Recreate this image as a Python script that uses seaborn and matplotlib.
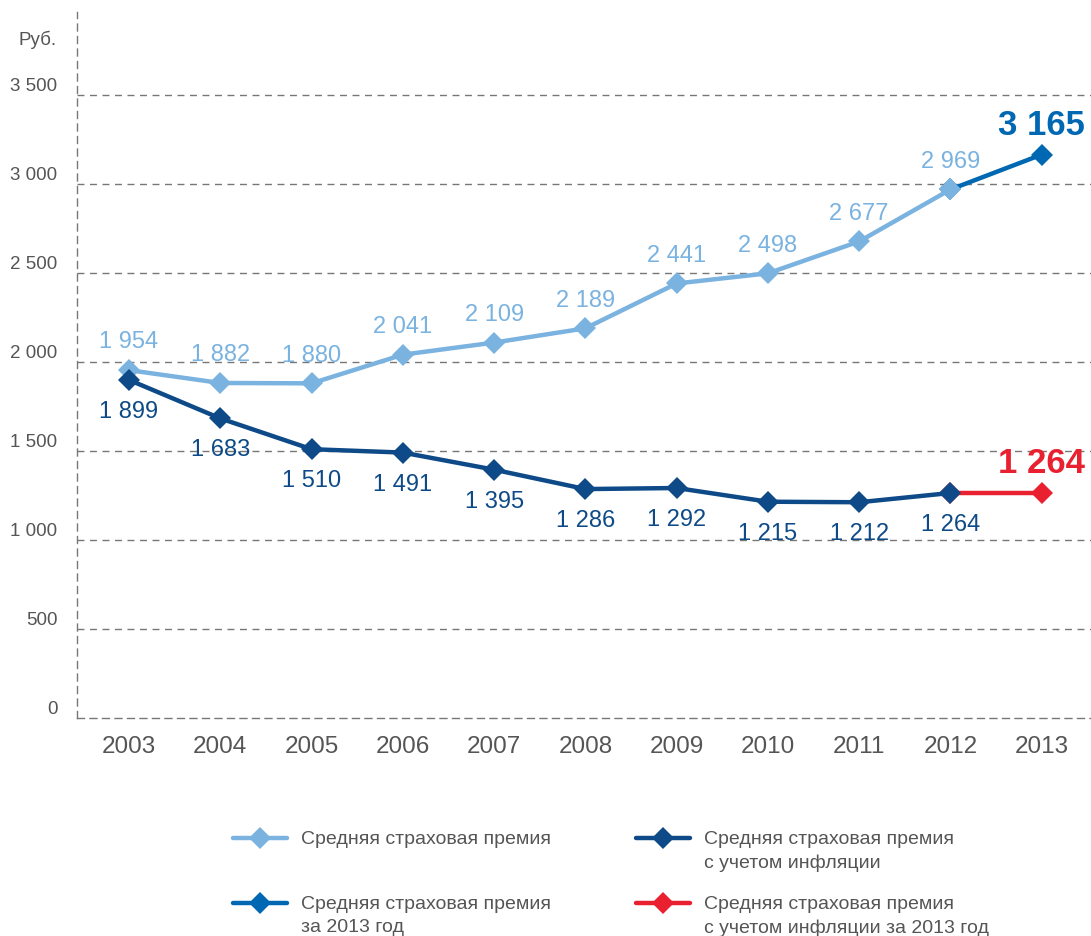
import numpy as np
import pandas as pd
import matplotlib.pyplot as plt
import seaborn as sns
from matplotlib.lines import Line2D

# chart data
years = list(range(2003, 2014))
premium = [1954, 1882, 1880, 2041, 2109, 2189, 2441, 2498, 2677, 2969, 3165]
premium_real = [1899, 1683, 1510, 1491, 1395, 1286, 1292, 1215, 1212, 1264, 1264]
y_ticks = [0, 500, 1000, 1500, 2000, 2500, 3000, 3500]
legend_labels = ["Средняя страховая премия",
                 "Средняя страховая премия\nс учетом инфляции",
                 "Средняя страховая премия\nза 2013 год",
                 "Средняя страховая премия\nс учетом инфляции за 2013 год"]

c_light = "#7ab2e0"
c_dark = "#0d4a87"
c_mid = "#0068b3"
c_red = "#e8202f"
c_text = "#555555"

df = pd.DataFrame({"year": years, "premium": premium, "real": premium_real})
past = df[df.year <= 2012]
last = df[df.year >= 2012]

sns.set_style("white")
plt.rcParams["font.family"] = ["Liberation Sans", "DejaVu Sans"]

def fmt(v):
    return f"{v:,}".replace(",", " ")

fig = plt.figure(figsize=(10.91, 9.36), dpi=100)
ax = fig.add_axes([77 / 1091, 218 / 936, 1014 / 1091, 706 / 936])
ax.set_xlim(2002.43, 2013.54)
ax.set_ylim(0, 3966)

# grid lines
for t in y_ticks[1:]:
    ax.axhline(t, color="#777777", lw=1, ls=(0, (5, 4)), zorder=1)
for s in ["top", "right"]:
    ax.spines[s].set_visible(False)
for s in ["left", "bottom"]:
    ax.spines[s].set_linestyle((0, (5, 4)))
    ax.spines[s].set_color("#777777")
    ax.spines[s].set_linewidth(1)

kw = dict(marker="D", markersize=11, linewidth=3.2, markeredgewidth=0, ax=ax)
# 2013 segments first so the 2012 markers sit on top
sns.lineplot(data=last, x="year", y="premium", color=c_mid, zorder=3, **kw)
sns.lineplot(data=last, x="year", y="real", color=c_red, zorder=3, **kw)
sns.lineplot(data=past, x="year", y="premium", color=c_light, zorder=4, **kw)
sns.lineplot(data=past, x="year", y="real", color=c_dark, zorder=4, **kw)

for x, v in zip(past.year, past.premium):
    ax.annotate(fmt(v), (x, v), xytext=(0, 20), textcoords="offset points",
                ha="center", va="center", fontsize=17, color=c_light)
for x, v in zip(past.year, past.real):
    ax.annotate(fmt(v), (x, v), xytext=(0, -23), textcoords="offset points",
                ha="center", va="center", fontsize=17, color=c_dark)
ax.annotate(fmt(premium[-1]), (years[-1], premium[-1]), xytext=(0, 21),
            textcoords="offset points", ha="center", va="center",
            fontsize=25, fontweight="bold", color=c_mid)
ax.annotate(fmt(premium_real[-1]), (years[-1], premium_real[-1]), xytext=(0, 21),
            textcoords="offset points", ha="center", va="center",
            fontsize=25, fontweight="bold", color=c_red)

ax.set_xticks(years)
ax.set_xticklabels([str(y) for y in years], fontsize=17.5, color=c_text)
ax.set_yticks(y_ticks)
ax.set_yticklabels([fmt(t) for t in y_ticks], fontsize=13.5, color=c_text)
for t in ax.get_yticklabels():
    t.set_va("bottom")
ax.tick_params(axis="x", length=0, pad=13)
ax.tick_params(axis="y", length=0, pad=14)
ax.set_xlabel("")
ax.set_ylabel("")
fig.text(57 / 1091, 1 - 40 / 936, "Руб.", ha="right", va="center",
         fontsize=13.5, color=c_text)

# legend drawn by hand to keep the two-column layout
leg_colors = [c_light, c_dark, c_mid, c_red]
leg_x = [233, 636, 233, 636]
leg_y = [838, 838, 903, 903]
for lab, col, lx, ly in zip(legend_labels, leg_colors, leg_x, leg_y):
    yy = 1 - ly / 936
    fig.add_artist(Line2D([lx / 1091, (lx + 54) / 1091], [yy, yy], color=col,
                          lw=3.2, transform=fig.transFigure))
    fig.add_artist(Line2D([(lx + 27) / 1091], [yy], color=col, marker="D",
                          markersize=11, markeredgewidth=0,
                          transform=fig.transFigure))
    fig.text((lx + 68) / 1091, yy + 7 / 936, lab, ha="left", va="top",
             fontsize=14, color=c_text, linespacing=1.45)

fig.savefig("out.png", dpi=100)
